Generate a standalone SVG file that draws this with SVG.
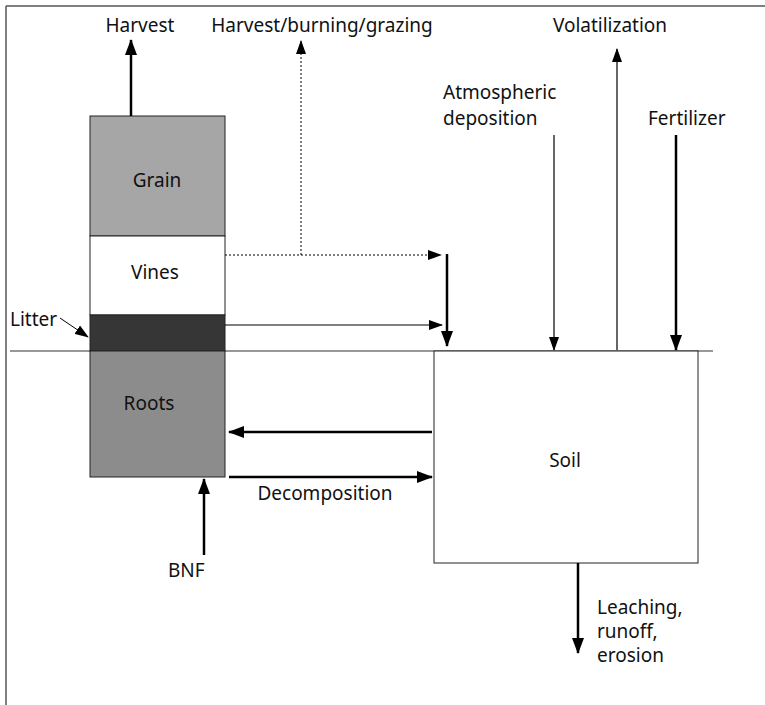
<svg xmlns="http://www.w3.org/2000/svg" width="765" height="705" viewBox="0 0 765 705">
<style>
text{font-family:"Noto Sans","Liberation Sans",sans-serif;font-size:19px;fill:#111}
.c{text-anchor:middle}
.ln{stroke:#000;fill:none}
.box{stroke:#222;stroke-width:1}
</style>
<defs>
<marker id="ahs" markerWidth="16" markerHeight="12" refX="15" refY="6" orient="auto" markerUnits="userSpaceOnUse" viewBox="0 0 16 12"><path d="M0,0 L16,6 L0,12 z" fill="#000"/></marker>
<marker id="ahm" markerWidth="14" markerHeight="10" refX="13" refY="5" orient="auto" markerUnits="userSpaceOnUse" viewBox="0 0 14 10"><path d="M0,0 L14,5 L0,10 z" fill="#000"/></marker>
</defs>
<rect width="765" height="705" fill="#fff"/>
<g id="frame">
<line x1="6" y1="6" x2="765" y2="6" stroke="#555" stroke-width="1.5"/>
<line x1="6" y1="6" x2="6" y2="705" stroke="#555" stroke-width="1.5"/>
<line x1="10" y1="351" x2="713" y2="351" stroke="#333" stroke-width="1.2"/>
</g>
<g id="grain"><rect class="box" x="90" y="116" width="135" height="120" fill="#a6a6a6"/><text class="c" x="157" y="187">Grain</text></g>
<g id="vines"><rect class="box" x="90" y="236" width="135" height="79" fill="#fff"/><text class="c" x="155" y="279">Vines</text></g>
<g id="litter"><rect class="box" x="90" y="315" width="135" height="36" fill="#363636"/><text x="10" y="326">Litter</text></g>
<g id="roots"><rect class="box" x="90" y="351" width="135" height="126" fill="#8c8c8c"/><text class="c" x="149" y="410">Roots</text></g>
<g id="soil"><rect class="box" x="434" y="351" width="264" height="212" fill="#fff"/><text class="c" x="565" y="467">Soil</text></g>
<g id="connectors">
<line class="ln" x1="131" y1="116" x2="131" y2="40" stroke-width="2.5" marker-end="url(#ahs)"/>
<line class="ln" x1="301" y1="255" x2="301" y2="41" stroke-width="1" stroke-dasharray="2,2" marker-end="url(#ahm)"/>
<line class="ln" x1="225" y1="255" x2="441" y2="255" stroke-width="1" stroke-dasharray="2,2" marker-end="url(#ahm)"/>
<line class="ln" x1="225" y1="325" x2="442" y2="325" stroke-width="1.2" marker-end="url(#ahm)"/>
<line class="ln" x1="447" y1="254" x2="447" y2="346" stroke-width="2.5" marker-end="url(#ahs)"/>
<line class="ln" x1="60" y1="318" x2="88" y2="337" stroke-width="1" marker-end="url(#ahm)"/>
<line class="ln" x1="554" y1="135" x2="554" y2="350" stroke-width="1.2" marker-end="url(#ahm)"/>
<line class="ln" x1="617" y1="350" x2="617" y2="49" stroke-width="1.2" marker-end="url(#ahm)"/>
<line class="ln" x1="676" y1="135" x2="676" y2="350" stroke-width="2.5" marker-end="url(#ahs)"/>
<line class="ln" x1="432" y1="432" x2="229" y2="432" stroke-width="2.5" marker-end="url(#ahs)"/>
<line class="ln" x1="229" y1="477" x2="432" y2="477" stroke-width="2.5" marker-end="url(#ahs)"/>
<line class="ln" x1="204" y1="555" x2="204" y2="479" stroke-width="2.5" marker-end="url(#ahs)"/>
<line class="ln" x1="578" y1="563" x2="578" y2="653" stroke-width="2.5" marker-end="url(#ahs)"/>
</g>
<g id="labels">
<text class="c" x="140" y="32">Harvest</text>
<text class="c" x="322" y="32">Harvest/burning/grazing</text>
<text class="c" x="610" y="32">Volatilization</text>
<text x="443" y="99">Atmospheric</text>
<text x="443" y="125">deposition</text>
<text x="648" y="125">Fertilizer</text>
<text class="c" x="325" y="500">Decomposition</text>
<text x="168" y="577">BNF</text>
<text x="597" y="614">Leaching,</text>
<text x="597" y="638">runoff,</text>
<text x="597" y="662">erosion</text>
</g>
</svg>
